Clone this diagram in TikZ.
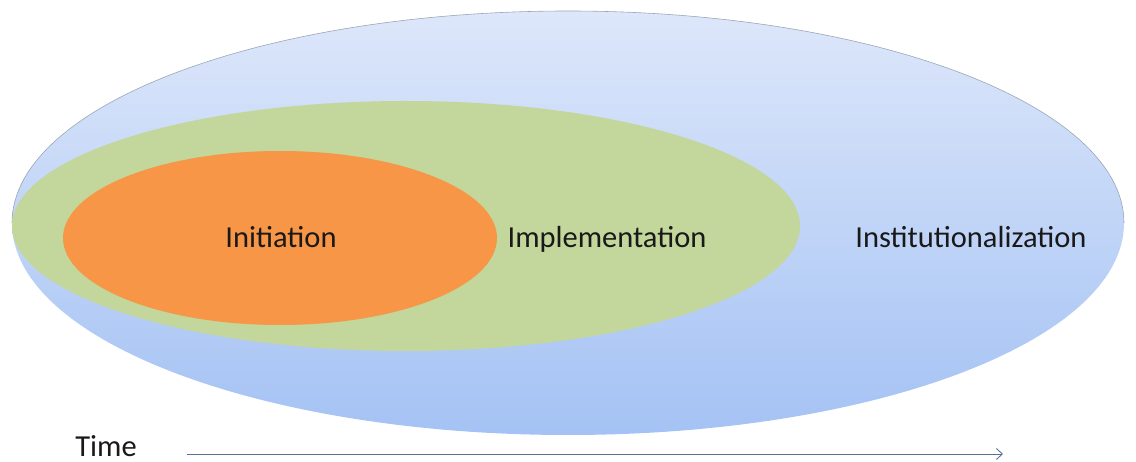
\documentclass[tikz,border=0pt]{standalone}
\usepackage{fontspec}
\setmainfont{Carlito}
\usetikzlibrary{shapes.geometric,arrows.meta}
\definecolor{bluetop}{HTML}{DDE7FA}
\definecolor{bluebot}{HTML}{A4C2F4}
\definecolor{greenfill}{HTML}{C3D69B}
\definecolor{orangefill}{HTML}{F79646}
\definecolor{arrowcol}{HTML}{5A7099}
\definecolor{edgecol}{HTML}{9AA6B8}
\tikzset{
  blob/.style={ellipse, inner sep=0pt, outer sep=0pt},
  lbl/.style={anchor=base, inner sep=0pt, font=\fontsize{30.5}{35}\selectfont, text=black!90},
}
\begin{document}
\begin{tikzpicture}[x=1pt,y=-1pt]
\useasboundingbox (0,0) rectangle (1136,462);
% outer blue ellipse
\node[blob, minimum width=1112pt, minimum height=424pt, top color=bluetop, bottom color=bluebot] (inst) at (568,223) {};
\draw[edgecol, line width=0.6pt] (inst.west) arc[start angle=180, end angle=360, x radius=556, y radius=212];
% green ellipse
\node[blob, minimum width=788pt, minimum height=250pt, fill=greenfill] (impl) at (406,226) {};
% orange ellipse
\node[blob, minimum width=434pt, minimum height=174pt, fill=orangefill] (init) at (280,238) {};
% labels
\node[lbl] (tinit) at (281,248) {Initiation};
\node[lbl] (timpl) at (607,248) {Implementation};
\node[lbl] (tinst) at (971,248) {Institutionalization};
\node[lbl, anchor=south] (time) at (106,457) {Time};
% time arrow
\coordinate (ts) at (187,454);
\coordinate (te) at (1003,454);
\draw[arrowcol, line width=0.9pt, -{Straight Barb[length=6pt,width=11pt]}] (ts) -- (te);
\end{tikzpicture}
\end{document}
